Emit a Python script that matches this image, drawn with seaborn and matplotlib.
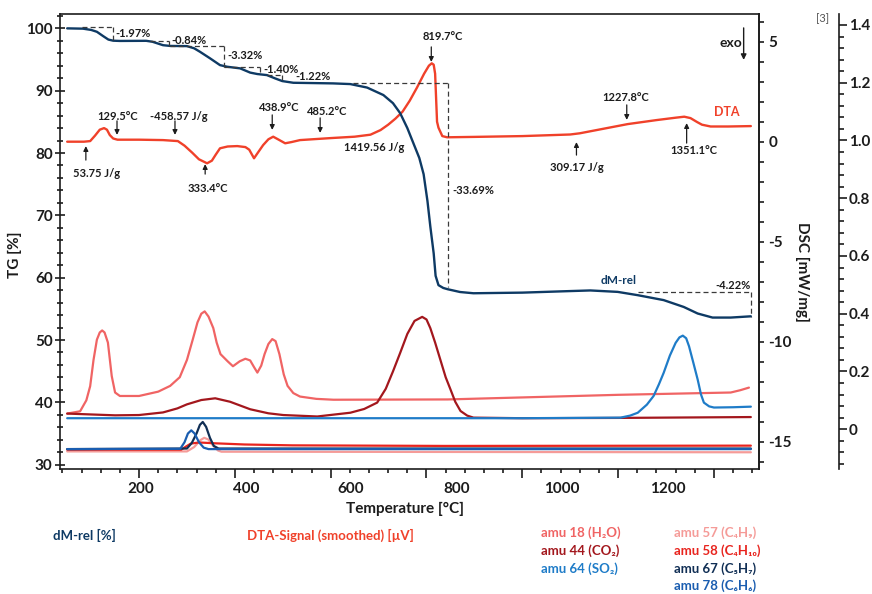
import numpy as np
import pandas as pd
import matplotlib
matplotlib.use("Agg")
import matplotlib.pyplot as plt
import seaborn as sns
from matplotlib.ticker import MultipleLocator, FuncFormatter

sns.set_theme(style="ticks")
plt.rcParams["font.family"] = ["Lato", "DejaVu Sans"]
plt.rcParams["font.weight"] = "bold"
plt.rcParams["axes.labelweight"] = "bold"
plt.rcParams["axes.unicode_minus"] = False

# ---- data (temperature in degC) ----
# TG / dM-rel [%]
tg_temp = [50, 83, 100, 112, 125, 136, 146, 160, 215, 228,
           240, 250, 265, 300, 315, 327, 348, 369, 384, 411,
           432, 447, 467, 484, 499, 522, 605, 641, 676, 710,
           730, 745, 760, 773, 785, 794, 802, 808, 815, 819,
           825, 835, 844, 870, 898, 1000, 1100, 1142, 1199, 1241,
           1295, 1337, 1366, 1397, 1435, 1477]
tg_val = [100.0, 99.95, 99.75, 99.45, 98.76, 98.2, 98.02, 97.98, 98.0, 97.85,
          97.55, 97.3, 97.18, 97.15, 96.8, 96.25, 95.2, 94.1, 93.84, 93.58,
          92.9, 92.67, 92.5, 91.97, 91.54, 91.27, 91.17, 91.06, 90.5, 89.3,
          88.0, 86.4, 84.0, 81.5, 79.2, 76.6, 72.3, 68.2, 63.9, 60.3,
          58.8, 58.35, 58.15, 57.7, 57.5, 57.6, 57.85, 57.95, 57.72, 57.19,
          56.4, 55.3, 54.25, 53.6, 53.6, 53.8]

# DTA [mW/mg]
dta_temp = [50, 85, 98, 108, 118, 127, 133, 139, 146, 155,
            200, 250, 281, 295, 311, 325, 342, 352, 360, 369,
            385, 405, 422, 430, 440, 448, 459, 470, 480, 490,
            505, 518, 536, 600, 650, 683, 704, 720, 735, 750,
            765, 780, 795, 805, 811, 815, 818, 820, 822, 825,
            833, 843, 900, 1000, 1100, 1120, 1170, 1220, 1280, 1320,
            1338, 1351, 1365, 1375, 1393, 1430, 1477]
dta_val = [0.0, 0.0, 0.03, 0.3, 0.6, 0.68, 0.6, 0.33, 0.16, 0.1,
           0.1, 0.08, 0.03, -0.2, -0.55, -0.88, -1.08, -0.95, -0.65, -0.33,
           -0.24, -0.22, -0.27, -0.4, -0.83, -0.55, -0.17, 0.12, 0.25, 0.12,
           -0.08, -0.02, 0.08, 0.18, 0.25, 0.35, 0.58, 0.85, 1.15, 1.5,
           2.05, 2.7, 3.4, 3.8, 3.92, 3.85, 3.4, 2.2, 1.0, 0.7,
           0.28, 0.22, 0.24, 0.28, 0.36, 0.42, 0.65, 0.88, 1.08, 1.2,
           1.25, 1.18, 0.98, 0.85, 0.76, 0.76, 0.78]

# MS ion currents [3]
amu18_temp = [50, 77, 90, 98, 105, 112, 118, 123, 128, 135,
              143, 150, 160, 200, 240, 265, 285, 300, 312, 322,
              330, 337, 345, 355, 362, 370, 385, 396, 410, 422,
              432, 440, 447, 455, 462, 470, 478, 485, 493, 502,
              510, 522, 536, 570, 606, 844, 1000, 1200, 1435, 1455,
              1473]
amu18_val = [0.054, 0.062, 0.10, 0.149, 0.24, 0.31, 0.335, 0.342, 0.335, 0.30,
             0.184, 0.127, 0.115, 0.115, 0.13, 0.15, 0.18, 0.24, 0.31, 0.37,
             0.40, 0.408, 0.39, 0.35, 0.30, 0.26, 0.235, 0.218, 0.235, 0.244,
             0.238, 0.215, 0.196, 0.22, 0.26, 0.295, 0.312, 0.305, 0.26, 0.19,
             0.15, 0.125, 0.113, 0.105, 0.102, 0.103, 0.110, 0.119, 0.127, 0.135,
             0.144]

amu44_temp = [50, 100, 150, 200, 250, 280, 300, 330, 359, 390,
              432, 470, 501, 572, 641, 670, 697, 715, 730, 745,
              760, 775, 791, 800, 808, 818, 829, 840, 850, 860,
              871, 885, 898, 1000, 1200, 1477]
amu44_val = [0.054, 0.051, 0.048, 0.049, 0.058, 0.072, 0.086, 0.101, 0.107, 0.095,
             0.069, 0.055, 0.049, 0.044, 0.057, 0.07, 0.092, 0.14, 0.20, 0.264,
             0.33, 0.375, 0.389, 0.38, 0.35, 0.30, 0.24, 0.18, 0.138, 0.095,
             0.063, 0.047, 0.040, 0.038, 0.039, 0.042]

amu64_temp = [50, 600, 1000, 1205, 1225, 1241, 1260, 1274, 1285, 1295,
              1308, 1320, 1328, 1335, 1342, 1348, 1357, 1366, 1373, 1379,
              1390, 1400, 1440, 1477]
amu64_val = [0.038, 0.038, 0.038, 0.040, 0.047, 0.057, 0.085, 0.115, 0.155, 0.195,
             0.255, 0.299, 0.318, 0.324, 0.315, 0.287, 0.23, 0.172, 0.12, 0.092,
             0.079, 0.075, 0.076, 0.078]

amu57_temp = [50, 300, 315, 328, 336, 345, 355, 365, 372, 1477]
amu57_val = [-0.077, -0.077, -0.062, -0.038, -0.030, -0.036, -0.058, -0.074, -0.078, -0.080]

amu58_temp = [50, 288, 298, 308, 325, 360, 420, 520, 840, 1477]
amu58_val = [-0.071, -0.071, -0.06, -0.05, -0.046, -0.049, -0.053, -0.056, -0.058, -0.057]

amu67_temp = [50, 300, 310, 320, 327, 333, 340, 348, 356, 366, 1477]
amu67_val = [-0.069, -0.067, -0.048, -0.015, 0.015, 0.025, 0.008, -0.03, -0.058, -0.067, -0.067]

amu78_temp = [50, 286, 295, 302, 309, 316, 325, 335, 345, 1477]
amu78_val = [-0.069, -0.068, -0.045, -0.015, -0.004, -0.015, -0.045, -0.064, -0.069, -0.069]

# TG step annotations
step_start = [81, 223, 265, 378, 468, 647, 1241]
step_end = [146, 263, 378, 453, 499, 844, 1477]
step_top = [100.16, 98.01, 97.16, 93.84, 92.58, 91.17, 57.72]
step_bottom = [98.01, 97.16, 93.84, 92.78, 91.43, 58.47, 53.71]
step_label = ["-1.97%", "-0.84%", "-3.32%", "-1.40%", "-1.22%", "-33.69%", "-4.22%"]
step_label_x = [150, 267, 384, 459, 526, 854, 1477]
step_label_y = [99.25, 98.12, 95.71, 93.47, 92.34, 74.04, 58.8]

# DTA peak / area annotations
note_text = ["53.75 J/g", "129.5°C", "-458.57 J/g", "333.4°C", "438.9°C", "485.2°C",
             "1419.56 J/g", "819.7°C", "1227.8°C", "309.17 J/g", "1351.1°C"]
note_x = [112, 155, 284, 344, 493, 593, 691, 835, 1216, 1113, 1358]
note_y = [-1.57, 1.24, 1.24, -2.32, 1.69, 1.49, -0.27, 5.24, 2.19, -1.27, -0.42]
arrow_x = [89, 154, 275, 338, 478, 578, None, 810, 1218, 1113, 1343]
arrow_tail = [-0.92, 1.04, 1.04, -1.62, 1.34, 1.19, None, 4.74, 1.84, -0.67, -0.07]
arrow_head = [-0.22, 0.34, 0.34, -1.12, 0.59, 0.44, None, 3.99, 1.09, -0.02, 0.93]

c_tg = "#0e3a64"
c_dta = "#f0412a"
ms_curves = [
    ("amu 18 (H₂O)", amu18_temp, amu18_val, "#f06464"),
    ("amu 44 (CO₂)", amu44_temp, amu44_val, "#a3171d"),
    ("amu 64 (SO₂)", amu64_temp, amu64_val, "#1f7cc8"),
    ("amu 57 (C₄H₉)", amu57_temp, amu57_val, "#f59b98"),
    ("amu 58 (C₄H₁₀)", amu58_temp, amu58_val, "#e8241e"),
    ("amu 67 (C₅H₇)", amu67_temp, amu67_val, "#112f55"),
    ("amu 78 (C₆H₆)", amu78_temp, amu78_val, "#1a5db0"),
]
ink = "#1c1c1c"

fig = plt.figure(figsize=(8.72, 5.94), dpi=100)
ax = fig.add_axes([0.0688, 0.2104, 0.8016, 0.766])
ax2 = ax.twinx()
ax3 = ax.twinx()

# MS curves on third axis
for name, t, v, col in ms_curves:
    sns.lineplot(x=t, y=v, ax=ax3, color=col, lw=1.6)

# DTA on DSC axis
sns.lineplot(x=dta_temp, y=dta_val, ax=ax2, color=c_dta, lw=1.7)

# TG on main axis
sns.lineplot(x=tg_temp, y=tg_val, ax=ax, color=c_tg, lw=1.7)
ax.set_zorder(ax3.get_zorder() + 2)
ax.patch.set_visible(False)

# limits
ax.set_xlim(35, 1494)
ax.set_ylim(29.3, 102.3)
ax2.set_ylim(-16.37, 6.385)
ax3.set_ylim(-0.138, 1.438)

# step boxes on TG
dash = dict(color="#3a3a3a", lw=0.9, ls=(0, (4, 2.5)))
for i in range(len(step_label)):
    ax.plot([step_start[i], step_end[i]], [step_top[i], step_top[i]], **dash)
    ax.plot([step_end[i], step_end[i]], [step_top[i], step_bottom[i]], **dash)
    ha = "right" if i == len(step_label) - 1 else "left"
    ax.text(step_label_x[i], step_label_y[i], step_label[i], ha=ha, va="center",
            fontsize=8, color=ink)
ax.text(1201, 59.6, "dM-rel", ha="center", va="center", fontsize=8.5, color=c_tg)

# DTA notes
for i in range(len(note_text)):
    ax2.text(note_x[i], note_y[i], note_text[i], ha="center", va="center",
             fontsize=8, color=ink)
    if arrow_x[i] is not None:
        ax2.annotate("", xy=(arrow_x[i], arrow_head[i]), xytext=(arrow_x[i], arrow_tail[i]),
                     arrowprops=dict(arrowstyle="-|>", color=ink, lw=0.9,
                                     mutation_scale=7, shrinkA=0, shrinkB=0))
ax2.text(1427, 1.49, "DTA", ha="center", va="center", fontsize=9, color=c_dta)
ax2.text(1435, 4.94, "exo", ha="center", va="center", fontsize=10, color=ink)
ax2.annotate("", xy=(1462, 4.09), xytext=(1462, 5.69),
             arrowprops=dict(arrowstyle="-|>", color=ink, lw=1.0,
                             mutation_scale=8, shrinkA=0, shrinkB=0))

# ---- axes styling ----
for s in ax.spines.values():
    s.set_color(ink)
    s.set_linewidth(1.2)
for a in (ax2, ax3):
    for k in ("top", "left", "bottom"):
        a.spines[k].set_visible(False)
    a.spines["right"].set_color(ink)
    a.spines["right"].set_linewidth(1.2)
ax3.spines["right"].set_position(("axes", 1.1144))

ax.xaxis.set_major_locator(MultipleLocator(200))
ax.xaxis.set_minor_locator(MultipleLocator(40))
ax.tick_params(axis="x", which="major", length=6.5, width=1.2, color=ink, labelbottom=False)
ax.tick_params(axis="x", which="minor", length=3, width=1.2, color=ink)
ax.yaxis.set_major_locator(MultipleLocator(10))
ax.yaxis.set_minor_locator(MultipleLocator(2))
ax.tick_params(axis="y", which="major", direction="inout", length=6.5, width=1.2,
               color=ink, labelsize=11, labelcolor=ink, pad=2)
ax.tick_params(axis="y", which="minor", direction="inout", length=4.3, width=1.2, color=ink)

ax2.yaxis.set_major_locator(MultipleLocator(5))
ax2.yaxis.set_minor_locator(MultipleLocator(1))
ax2.tick_params(axis="y", which="both", direction="out", length=3.6, width=1.2,
                color=ink, labelsize=11, labelcolor=ink, pad=3)

ax3.yaxis.set_major_locator(MultipleLocator(0.2))
ax3.yaxis.set_minor_locator(MultipleLocator(0.04))
ax3.yaxis.set_major_formatter(FuncFormatter(lambda v, _: "0" if abs(v) < 1e-9 else f"{v:.1f}"))
ax3.tick_params(axis="y", which="major", direction="out", length=5.5, width=1.2,
                color=ink, labelsize=11, labelcolor=ink, pad=1.5)
ax3.tick_params(axis="y", which="minor", direction="out", length=3.6, width=1.2, color=ink)

# temperature labels as printed on the chart
to_label = lambda t: 0.909 * np.asarray(t) + 15.7
from_label = lambda l: (np.asarray(l) - 15.7) / 0.909
secax = ax.secondary_xaxis("bottom", functions=(to_label, from_label))
secax.xaxis.set_major_locator(MultipleLocator(200))
secax.tick_params(axis="x", length=0, pad=9, labelsize=11, labelcolor=ink)
secax.spines["bottom"].set_visible(False)

ax.set_xlabel("Temperature [°C]", fontsize=11, color=ink)
ax.xaxis.set_label_coords(0.494, -0.073)
ax.set_ylabel("TG [%]", fontsize=11, color=ink)
ax.yaxis.set_label_coords(-0.054, 0.47)
ax2.set_ylabel("DSC [mW/mg]", fontsize=11, color=ink, rotation=270, va="bottom")
ax2.yaxis.set_label_coords(1.052, 0.433)
ax3.set_ylabel("")
fig.text(823 / 872, 1 - 19 / 594, "[3]", ha="center", va="center", fontsize=8,
         color="#555555", fontweight="normal")

# bottom legend texts
fig.text(53 / 872, 1 - 535 / 594, "dM-rel [%]", ha="left", va="center", fontsize=9.5, color=c_tg)
fig.text(247 / 872, 1 - 535 / 594, "DTA-Signal (smoothed) [µV]", ha="left", va="center",
         fontsize=9.5, color=c_dta)
leg_x = [541, 541, 541, 674, 674, 674, 674]
leg_y = [533, 551, 569, 533, 551, 569, 586]
for (name, t, v, col), lx, ly in zip(ms_curves, leg_x, leg_y):
    fig.text(lx / 872, 1 - ly / 594, name, ha="left", va="center", fontsize=9.5, color=col)

fig.savefig("out.png", dpi=100, facecolor="white")
